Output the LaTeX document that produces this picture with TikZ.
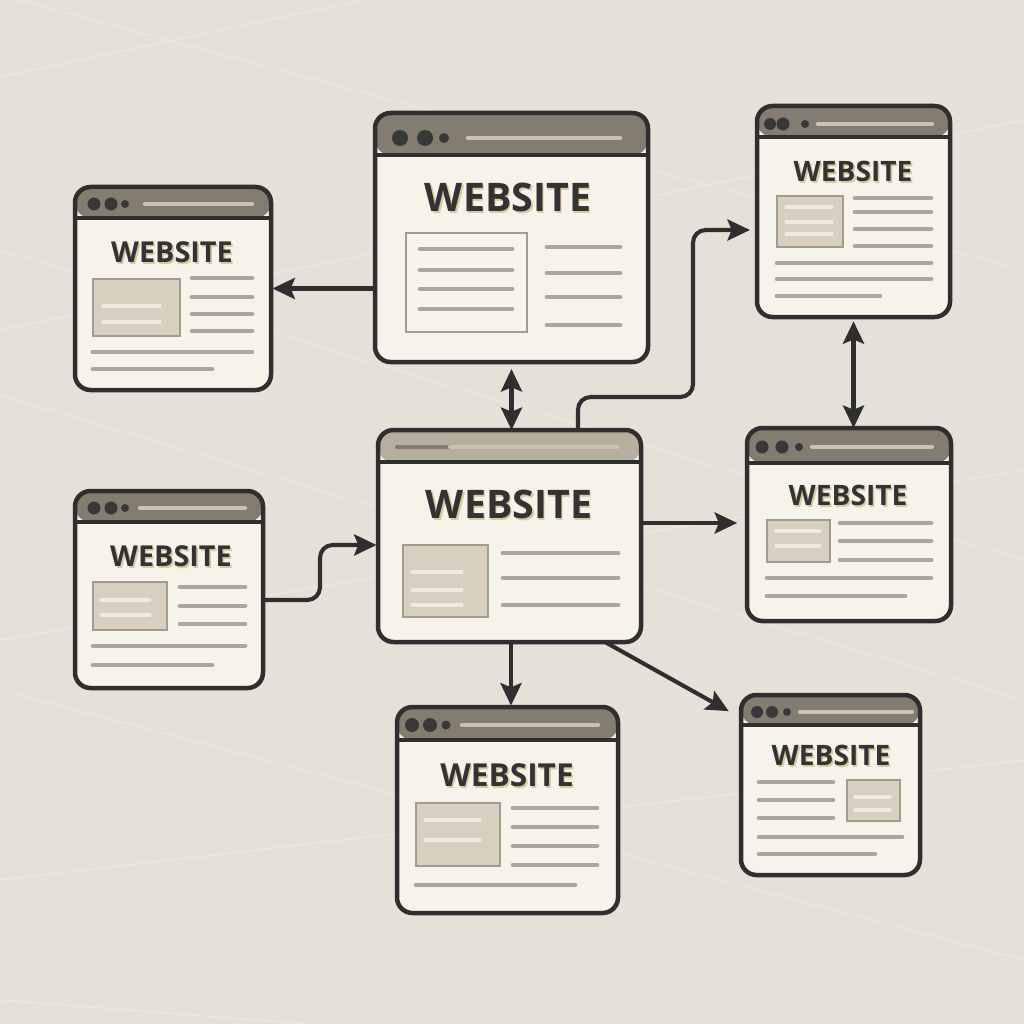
\documentclass[tikz,border=0pt]{standalone}
\usepackage{fontspec}
\newfontfamily\titlefont{Open Sans}
\usetikzlibrary{arrows.meta,fit}

\definecolor{bg}{HTML}{E5E1D8}
\definecolor{bgline}{HTML}{EAE7DF}
\definecolor{winfill}{HTML}{F6F3EA}
\definecolor{winline}{HTML}{2F2F2F}
\definecolor{barfill}{HTML}{827C71}
\definecolor{barlight}{HTML}{B6AFA0}
\definecolor{barhl}{HTML}{C8C2B3}
\definecolor{dotcol}{HTML}{383838}
\definecolor{txtline}{HTML}{ACA799}
\definecolor{imgfill}{HTML}{D7CFBF}
\definecolor{imgdraw}{HTML}{A39C8D}
\definecolor{imgline}{HTML}{EFEADF}
\definecolor{titlecol}{HTML}{333333}
\definecolor{shadowcol}{HTML}{D9C99E}

\tikzset{
          window/.style 2 args = {draw = winline, line width = 3.2pt, fill = winfill, rounded corners = 11pt,
                                  inner sep = 0pt, outer sep = 0pt,
                                  path picture = {
                                    \fill[#2] ([yshift=2pt]path picture bounding box.north west)
                                      rectangle ([yshift=-#1]path picture bounding box.north east);
                                    \draw[winline, line width = 3pt] ([yshift=-#1]path picture bounding box.north west)
                                      -- ([yshift=-#1]path picture bounding box.north east);}},
          barline/.style = {draw = barhl, line width = 3pt, line cap = round},
          textline/.style = {draw = txtline, line width = 3.4pt, line cap = round},
          imgbox/.style = {fill = imgfill, draw = imgdraw, line width = 2pt},
          imgline/.style = {draw = imgline, line width = 2.4pt, line cap = round},
          title/.style = {text = titlecol, inner sep = 0pt},
          titleshadow/.style = {text = shadowcol, inner sep = 0pt},
          conn/.style = {draw = winline, line width = 2.9pt, rounded corners = 9pt,
                         -{Stealth[length=16pt, width=15pt, inset=3pt]}},
          twoway/.style = {conn, {Stealth[length=16pt, width=15pt, inset=3pt]}-{Stealth[length=16pt, width=15pt, inset=3pt]}}
        }

% name, x, y, font size
\newcommand\wtitle[4]{%
  \node[titleshadow, font = {\titlefont\bfseries\fontsize{#4pt}{#4pt}\selectfont}] (#1s) at ([xshift=1.2pt, yshift=-1.6pt]#2,#3) {WEBSITE};
  \node[title, font = {\titlefont\bfseries\fontsize{#4pt}{#4pt}\selectfont}] (#1) at (#2,#3) {WEBSITE};}

\begin{document}
\begin{tikzpicture}[x=0.025cm, y=-0.025cm]
          \fill[bg] (0,0) rectangle (1024,1024);
          \useasboundingbox (0,0) rectangle (1024,1024);

          \foreach \ya/\yb in {77/-140, -5/270, 330/120, 395/700, 640/470, 690/960, 880/760, 1000/1080, 250/560}{
            \draw[bgline, line width = 1.1pt] (0,\ya) -- (1024,\yb);
          }

          % top window
          \node[window = {29.9pt}{barfill}, fit = {(375,113) (648,362)}] (top) {};
          \fill[dotcol] (400,138) circle (8) (425,138) circle (8) (444,138) circle (5);
          \draw[barline] (468,138) -- (620,138);
          \wtitle{toptitle}{508}{197}{28}
          \draw[fill = winfill!90!white, draw = imgdraw, line width = 2pt] (406,233) rectangle (527,332);
          \foreach \y in {249,270,289,309}{
            \draw[textline] (420,\y) -- (512,\y);
          }
          \foreach \y in {247,273,297,325}{
            \draw[textline] (547,\y) -- (620,\y);
          }

          % top left window
          \node[window = {22pt}{barfill}, fit = {(75,187) (271,390)}] (topleft) {};
          \fill[dotcol] (94,204) circle (6.5) (111,204) circle (6.5) (125,204) circle (4);
          \draw[barline] (145,204) -- (252,204);
          \wtitle{topleftttl}{172}{252}{20.5}
          \draw[imgbox] (93,279) rectangle (180,336);
          \foreach \y in {306,322}{
            \draw[imgline] (103,\y) -- (160,\y);
          }
          \foreach \y in {278,297,314,331}{
            \draw[textline] (192,\y) -- (252,\y);
          }
          \draw[textline] (93,352) -- (252,352);
          \draw[textline] (93,369) -- (212,369);

          % hub window
          \node[window = {22.8pt}{barlight}, fit = {(378,430) (641,642)}] (hub) {};
          \draw[barline, draw = barfill] (397,447) -- (450,447);
          \draw[barline] (450,447) -- (617,447);
          \wtitle{hubtitle}{509}{504}{28}
          \draw[imgbox] (403,545) rectangle (488,617);
          \foreach \y in {572,590,605}{
            \draw[imgline] (412,\y) -- (462,\y);
          }
          \foreach \y in {553,578,605}{
            \draw[textline] (503,\y) -- (618,\y);
          }

          % top right window
          \node[window = {22pt}{barfill}, fit = {(757,106) (950,317)}] (topright) {};
          \fill[dotcol] (770,124) circle (6) (783,124) circle (6.5) (805,124) circle (4);
          \draw[barline] (818,124) -- (932,124);
          \wtitle{toprightttl}{853}{171}{20}
          \draw[imgbox] (777,196) rectangle (843,247);
          \foreach \y in {207,222,234}{
            \draw[imgline] (786,\y) -- (832,\y);
          }
          \foreach \y in {198,212,229,246}{
            \draw[textline] (855,\y) -- (931,\y);
          }
          \draw[textline] (777,263) -- (931,263);
          \draw[textline] (777,279) -- (931,279);
          \draw[textline] (777,296) -- (880,296);

          % middle right window
          \node[window = {24.9pt}{barfill}, fit = {(747,428) (951,621)}] (midright) {};
          \fill[dotcol] (762,447) circle (6.5) (782,447) circle (6.5) (799,447) circle (4);
          \draw[barline] (812,447) -- (932,447);
          \wtitle{midrightttl}{848}{495}{20}
          \draw[imgbox] (767,520) rectangle (830,562);
          \foreach \y in {531,546}{
            \draw[imgline] (776,\y) -- (820,\y);
          }
          \foreach \y in {523,541,560}{
            \draw[textline] (840,\y) -- (931,\y);
          }
          \draw[textline] (767,578) -- (931,578);
          \draw[textline] (767,596) -- (905,596);

          % middle left window
          \node[window = {22pt}{barfill}, fit = {(75,491) (263,688)}] (midleft) {};
          \fill[dotcol] (94,508) circle (6.5) (111,508) circle (6.5) (125,508) circle (4);
          \draw[barline] (140,508) -- (245,508);
          \wtitle{midleftttl}{171}{556}{20.5}
          \draw[imgbox] (93,582) rectangle (167,630);
          \foreach \y in {600,615}{
            \draw[imgline] (101,\y) -- (150,\y);
          }
          \foreach \y in {587,606,624}{
            \draw[textline] (180,\y) -- (245,\y);
          }
          \draw[textline] (93,646) -- (245,646);
          \draw[textline] (93,665) -- (212,665);

          % bottom window
          \node[window = {23.5pt}{barfill}, fit = {(397,707) (618,913)}] (bottom) {};
          \fill[dotcol] (412,725) circle (7) (430,725) circle (7) (446,725) circle (4.5);
          \draw[barline] (462,725) -- (598,725);
          \wtitle{bottomttl}{507}{775}{22.5}
          \draw[imgbox] (416,803) rectangle (500,866);
          \foreach \y in {820,840}{
            \draw[imgline] (425,\y) -- (480,\y);
          }
          \foreach \y in {808,827,846,865}{
            \draw[textline] (513,\y) -- (597,\y);
          }
          \draw[textline] (416,885) -- (575,885);

          % bottom right window
          \node[window = {21.3pt}{barfill}, fit = {(741,695) (920,875)}] (botright) {};
          \fill[dotcol] (757,712) circle (6) (772,712) circle (6) (787,712) circle (4);
          \draw[barline] (800,712) -- (912,712);
          \wtitle{botrightttl}{831}{755}{20}
          \foreach \y in {782,800,818}{
            \draw[textline] (759,\y) -- (833,\y);
          }
          \draw[imgbox] (847,780) rectangle (900,821);
          \foreach \y in {797,810}{
            \draw[imgline] (855,\y) -- (890,\y);
          }
          \draw[textline] (759,837) -- (902,837);
          \draw[textline] (759,854) -- (875,854);

          % connectors
          \draw[conn, shorten >= 1pt] (top.west |- topleft.east) -- (topleft.east);
          \draw[twoway, shorten <= 5pt] (top.south) -- (top.south |- hub.north);
          \draw[conn, shorten >= 5pt] (578,0 |- hub.north) -- (578,397) -- (693,397) -- (693,230) -- (topright.west |- 0,230);
          \draw[twoway, shorten <= 3pt] (topright.south) -- (topright.south |- midright.north);
          \draw[conn, shorten >= 7pt] (hub.east |- 0,523) -- (midright.west |- 0,523);
          \draw[conn, shorten >= 1pt] (midleft.east |- 0,600) -- (320,600) -- (320,545) -- (hub.west |- 0,545);
          \draw[conn, shorten >= 1pt] (511,0 |- hub.south) -- (511,0 |- bottom.north);
          \draw[conn, shorten >= 10pt] (605,0 |- hub.south) -- (botright.west |- 0,718);
        \end{tikzpicture}
\end{document}
